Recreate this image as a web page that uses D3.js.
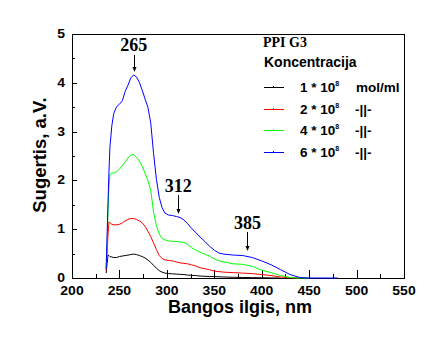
<!DOCTYPE html>
<html><head><meta charset="utf-8">
<script src="https://cdn.jsdelivr.net/npm/d3@7/dist/d3.min.js"></script>
<style>body{margin:0;background:#fff}svg{display:block}</style>
</head><body>
<svg id="c" width="441" height="352"></svg>
<script>
const wavelength = [236,237,238,239,240,242,244,247,250,253,256,259,262,265,268,271,274,277,280,283,286,289,292,295,298,302,306,310,314,318,322,326,330,335,340,345,350,355,360,370,380,390,400,410,420,430,440,450,460,470,480];
const conc1 = [0.1,0.3,0.47,0.46,0.44,0.43,0.42,0.42,0.44,0.45,0.46,0.47,0.48,0.49,0.48,0.46,0.44,0.41,0.37,0.32,0.26,0.2,0.15,0.12,0.1,0.09,0.085,0.08,0.075,0.07,0.06,0.055,0.05,0.04,0.035,0.03,0.028,0.025,0.02,0.015,0.01,0.008,0.005,0.002,0,null,null,null,null,null,null];
const conc2 = [0.15,0.5,0.9,1.15,1.13,1.1,1.09,1.09,1.1,1.13,1.17,1.2,1.22,1.22,1.2,1.17,1.13,1.06,0.96,0.85,0.72,0.58,0.46,0.4,0.37,0.36,0.35,0.33,0.31,0.3,0.29,0.27,0.25,0.21,0.19,0.17,0.14,0.13,0.12,0.11,0.1,0.09,0.07,0.05,0.02,0.005,0,null,null,null,null];
const conc4 = [0.2,0.6,1.4,1.9,2.12,2.15,2.15,2.18,2.23,2.3,2.38,2.46,2.52,2.53,2.47,2.4,2.29,2.15,2.0,1.8,1.35,1.07,0.9,0.81,0.78,0.76,0.75,0.75,0.74,0.73,0.69,0.62,0.58,0.53,0.49,0.45,0.39,0.35,0.33,0.29,0.28,0.24,0.16,0.11,0.05,0.01,0,0,null,null,null];
const conc6 = [0.18,0.9,1.55,2.2,2.69,3.12,3.37,3.51,3.56,3.63,3.82,3.95,4.1,4.16,4.12,4.01,3.85,3.67,3.5,3.18,2.55,2.02,1.65,1.44,1.33,1.29,1.28,1.26,1.24,1.19,1.11,1.02,0.94,0.84,0.75,0.65,0.57,0.51,0.49,0.47,0.46,0.42,0.35,0.27,0.17,0.07,0.01,0,0,0,0];
const seriesNames = ["1","2","4","6"];
const seriesColors = ["#000000","#ff0000","#00ff00","#0000ff"];
const seriesUnits = ["mol/ml","-||-","-||-","-||-"];
const xTicks = [200,250,300,350,400,450,500,550];
const yTicks = [0,1,2,3,4,5];
const peaks = [265,312,385];

const svg = d3.select("#c");
const L=72,T=34,R=404,B=278;
const x = d3.scaleLinear().domain([200,550]).range([L,R]);
const y = d3.scaleLinear().domain([0,5]).range([B,T]);
const sans = "'Liberation Sans', Arial, sans-serif";
const serif = "'Liberation Serif', 'Times New Roman', serif";

// frame
svg.append("rect").attr("x",L+0.5).attr("y",T+0.5).attr("width",R-L).attr("height",B-T)
  .attr("fill","none").attr("stroke","#000").attr("stroke-width",1);

// x ticks (inward)
const xMinor = d3.range(225,550,50);
svg.selectAll(".xt").data(xTicks.slice(1,-1)).enter().append("line")
  .attr("x1",d=>Math.round(x(d))+0.5).attr("x2",d=>Math.round(x(d))+0.5)
  .attr("y1",B).attr("y2",B-8).attr("stroke","#000");
svg.selectAll(".xm").data(xMinor).enter().append("line")
  .attr("x1",d=>Math.round(x(d))+0.5).attr("x2",d=>Math.round(x(d))+0.5)
  .attr("y1",B).attr("y2",B-4).attr("stroke","#000");
svg.selectAll(".xl").data(xTicks).enter().append("text")
  .attr("transform",d=>`translate(${x(d)},295) scale(1,0.85)`).attr("text-anchor","middle")
  .attr("font-family",sans).attr("font-weight","bold").attr("font-size",14).text(d=>d);

// y ticks
const yMinor = d3.range(0.5,5,1);
svg.selectAll(".yt").data(yTicks.slice(1,-1)).enter().append("line")
  .attr("y1",d=>Math.round(y(d))+0.5).attr("y2",d=>Math.round(y(d))+0.5)
  .attr("x1",L).attr("x2",L+5).attr("stroke","#000");
svg.selectAll(".ym").data(yMinor).enter().append("line")
  .attr("y1",d=>Math.round(y(d))+0.5).attr("y2",d=>Math.round(y(d))+0.5)
  .attr("x1",L).attr("x2",L+3).attr("stroke","#000");
svg.selectAll(".yl").data(yTicks).enter().append("text")
  .attr("transform",d=>`translate(65,${y(d)+4}) scale(1,0.85)`).attr("text-anchor","end")
  .attr("font-family",sans).attr("font-weight","bold").attr("font-size",14).text(d=>d);

// axis titles
svg.append("text").attr("x",240).attr("y",313).attr("text-anchor","middle")
  .attr("font-family",sans).attr("font-weight","bold").attr("font-size",18).text("Bangos ilgis, nm");
svg.append("text").attr("transform","translate(46,155) rotate(-90)").attr("text-anchor","middle")
  .attr("font-family",sans).attr("font-weight","bold").attr("font-size",18.5).text("Sugertis, a.V.");

// curves
const allSeries = [conc1,conc2,conc4,conc6];
const line = d3.line().defined(d=>d[1]!==null).x(d=>x(d[0])).y(d=>y(d[1]));
allSeries.forEach((s,i)=>{
  svg.append("path").datum(wavelength.map((w,j)=>[w,s[j]]))
    .attr("d",line).attr("fill","none").attr("stroke",seriesColors[i]).attr("stroke-width",1);
});

// peak annotations
const labelY = [50.5,191.5,228.5];
const arrowTop = [55,195,232];
const arrowTip = [72,214,251];
peaks.forEach((p,i)=>{
  const px = x(p);
  svg.append("text").attr("x",px).attr("y",labelY[i]).attr("text-anchor","middle")
    .attr("font-family",serif).attr("font-weight","bold").attr("font-size",18).text(p);
  svg.append("line").attr("x1",Math.round(px)+0.5).attr("x2",Math.round(px)+0.5)
    .attr("y1",arrowTop[i]).attr("y2",arrowTip[i]-4).attr("stroke","#000");
  svg.append("path").attr("d",`M${Math.round(px)-1.5},${arrowTip[i]-5} L${Math.round(px)+2.5},${arrowTip[i]-5} L${Math.round(px)+0.5},${arrowTip[i]} Z`).attr("fill","#000");
});

// legend
svg.append("text").attr("x",263).attr("y",47).attr("font-family",serif).attr("font-weight","bold")
  .attr("font-size",14).text("PPI G3");
svg.append("text").attr("x",264).attr("y",67).attr("font-family",sans).attr("font-weight","bold")
  .attr("font-size",14).text("Koncentracija");
const legY = [87.5,109.5,130.5,152.5];
seriesNames.forEach((n,i)=>{
  svg.append("line").attr("x1",264).attr("x2",284).attr("y1",legY[i]).attr("y2",legY[i])
    .attr("stroke",seriesColors[i]);
  svg.append("rect").attr("x",273).attr("y",legY[i]-1.5).attr("width",1).attr("height",1)
    .attr("fill",seriesColors[i]);
  const t = svg.append("text").attr("x",300).attr("y",legY[i]+4.5).attr("font-family",sans)
    .attr("font-weight","bold").attr("font-size",13.5);
  t.append("tspan").text(n+" * 10");
  t.append("tspan").attr("dy",-6).attr("font-size",7).text("8");
  t.append("tspan").attr("x",seriesUnits[i]==="mol/ml"?356:355).attr("dy",6).text(seriesUnits[i]);
});
</script>
</body></html>
